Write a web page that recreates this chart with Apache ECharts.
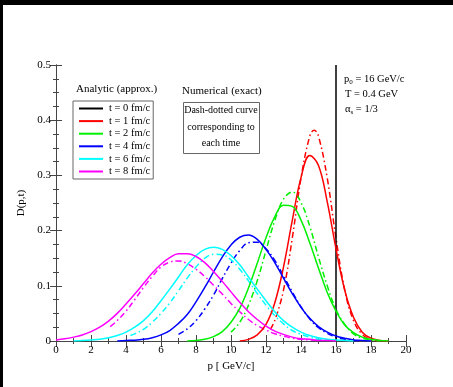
<!DOCTYPE html>
<html>
<head>
<meta charset="utf-8">
<script src="https://cdn.jsdelivr.net/npm/echarts@6/dist/echarts.min.js"></script>
<style>
  html, body { margin: 0; padding: 0; background: #fff; }
  #chart { width: 453px; height: 387px; }
</style>
</head>
<body>
<div id="chart"></div>
<script>
// Momentum distribution D(p,t) of a heavy quark, p0 = 16 GeV/c
const legendLabels = ['t = 0 fm/c', 't = 1 fm/c', 't = 2 fm/c', 't = 4 fm/c', 't = 6 fm/c', 't = 8 fm/c'];
const curveColors = ['#000000', '#ff0000', '#00f000', '#0000ff', '#00ffff', '#ff00ff'];

// t = 0: delta peak at p0
const t0Line = [[16, 0], [16, 0.5]];

// analytic (approx.) curves, [p, D]
const t1Analytic = [[10.5,0],[11,0.003],[11.5,0.011],[12,0.030],[12.5,0.069],[13,0.134],[13.5,0.218],[14,0.296],[14.5,0.336],[15,0.318],[15.5,0.252],[16,0.167],[16.5,0.092],[17,0.043],[17.5,0.016],[18,0.005],[18.5,0.001],[19,0]];
const t2Analytic = [[7.5,0],[8,0.001],[8.5,0.003],[9,0.008],[9.5,0.017],[10,0.034],[10.5,0.059],[11,0.096],[11.5,0.141],[12,0.187],[12.5,0.225],[13,0.246],[13.5,0.244],[14,0.219],[14.5,0.178],[15,0.132],[15.5,0.088],[16,0.054],[16.5,0.029],[17,0.015],[17.5,0.007],[18,0.003],[18.5,0.001],[19,0]];
const t4Analytic = [[3.5,0],[4,0.001],[4.5,0.0015],[5,0.003],[5.5,0.006],[6,0.011],[6.5,0.019],[7,0.032],[7.5,0.048],[8,0.071],[8.5,0.097],[9,0.125],[9.5,0.152],[10,0.174],[10.5,0.188],[11,0.192],[11.5,0.184],[12,0.166],[12.5,0.142],[13,0.114],[13.5,0.086],[14,0.061],[14.5,0.041],[15,0.026],[15.5,0.016],[16,0.009],[16.5,0.005],[17,0.002],[17.5,0.001],[18,0]];
const t6Analytic = [[1,0],[1.5,0.001],[2,0.002],[2.5,0.003],[3,0.006],[3.5,0.010],[4,0.016],[4.5,0.025],[5,0.037],[5.5,0.053],[6,0.073],[6.5,0.094],[7,0.116],[7.5,0.138],[8,0.155],[8.5,0.166],[9,0.170],[9.5,0.166],[10,0.155],[10.5,0.138],[11,0.116],[11.5,0.094],[12,0.073],[12.5,0.053],[13,0.037],[13.5,0.025],[14,0.016],[14.5,0.010],[15,0.006],[15.5,0.003],[16,0.002],[16.5,0.001],[17,0]];
const t8Analytic = [[0,0.002],[0.5,0.004],[1,0.007],[1.5,0.011],[2,0.017],[2.5,0.025],[3,0.036],[3.5,0.050],[4,0.067],[4.5,0.085],[5,0.104],[5.5,0.123],[6,0.139],[6.5,0.151],[7,0.158],[7.5,0.158],[8,0.153],[8.5,0.142],[9,0.126],[9.5,0.108],[10,0.089],[10.5,0.070],[11,0.053],[11.5,0.039],[12,0.027],[12.5,0.018],[13,0.012],[13.5,0.007],[14,0.004],[14.5,0.003],[15,0.001],[15.5,0.001],[16,0]];

// numerical (exact) curves, [p, D]
const t1Numerical = [[12.25,0.021],[12.5,0.037],[13,0.092],[13.5,0.186],[14,0.295],[14.5,0.371],[14.75,0.382],[15,0.371],[15.5,0.295],[16,0.186],[16.5,0.092],[17,0.037],[17.5,0.012],[18,0.003],[18.5,0]];
const t2Numerical = [[10,0.016],[10.5,0.034],[11,0.065],[11.5,0.109],[12,0.164],[12.5,0.218],[13,0.257],[13.5,0.270],[14,0.251],[14.5,0.208],[15,0.152],[15.5,0.100],[16,0.057],[16.5,0.030],[17,0.013],[17.5,0.005],[18,0.002],[18.5,0]];
const t4Numerical = [[7,0.012],[7.5,0.022],[8,0.037],[8.5,0.058],[9,0.083],[9.5,0.113],[10,0.141],[10.5,0.164],[11,0.178],[11.5,0.179],[12,0.167],[12.5,0.146],[13,0.118],[13.5,0.089],[14,0.062],[14.5,0.040],[15,0.024],[15.5,0.014],[16,0.007],[16.5,0.003],[17,0.001],[17.5,0]];
const t6Numerical = [[4.25,0.010],[4.5,0.013],[5,0.021],[5.5,0.034],[6,0.050],[6.5,0.069],[7,0.091],[7.5,0.114],[8,0.134],[8.5,0.150],[9,0.157],[9.5,0.156],[10,0.147],[10.5,0.130],[11,0.109],[11.5,0.086],[12,0.065],[12.5,0.046],[13,0.031],[13.5,0.019],[14,0.012],[14.5,0.007],[15,0.003],[15.5,0.002],[16,0.001]];
const t8Numerical = [[3.1,0.026],[3.5,0.037],[4,0.054],[4.5,0.075],[5,0.097],[5.5,0.117],[6,0.134],[6.5,0.143],[7,0.145],[7.5,0.140],[8,0.130],[8.5,0.117],[9,0.101],[9.5,0.085],[10,0.068],[10.5,0.053],[11,0.039],[11.5,0.028],[12,0.020],[12.5,0.013],[13,0.009],[13.5,0.005],[14,0.003],[14.5,0.002],[15,0.001]];

const analyticData = [t0Line, t1Analytic, t2Analytic, t4Analytic, t6Analytic, t8Analytic];
const numericalData = [null, t1Numerical, t2Numerical, t4Numerical, t6Numerical, t8Numerical];

const SERIF = '"Liberation Serif", "DejaVu Serif", serif';
const frameColor = '#444';

const chart = echarts.init(document.getElementById('chart'), null, { renderer: 'canvas' });

const series = [];
analyticData.forEach((d, i) => {
  series.push({
    name: legendLabels[i],
    type: 'line',
    data: d,
    symbol: 'none',
    smooth: i === 0 ? false : 0.4,
    lineStyle: { color: curveColors[i], width: 1.5 },
    itemStyle: { color: curveColors[i] },
    z: 3
  });
});
numericalData.forEach((d, i) => {
  if (!d) return;
  series.push({
    name: 'numerical ' + legendLabels[i],
    type: 'line',
    data: d,
    symbol: 'none',
    smooth: 0.4,
    lineStyle: { color: curveColors[i], width: 1.5, type: [6, 3, 1.5, 3] },
    itemStyle: { color: curveColors[i] },
    z: 2
  });
});

const xAxisBase = {
  type: 'value', min: 0, max: 20, interval: 2,
  axisLine: { show: true, lineStyle: { color: frameColor, width: 1 } },
  axisTick: { show: true, inside: true, length: 6, lineStyle: { color: frameColor } },
  minorTick: { show: true, splitNumber: 2, length: 3, lineStyle: { color: frameColor } },
  splitLine: { show: false },
  minorSplitLine: { show: false }
};
const yAxisBase = {
  type: 'value', min: 0, max: 0.5, interval: 0.1,
  axisLine: { show: true, lineStyle: { color: frameColor, width: 1 } },
  axisTick: { show: true, inside: true, length: 6, lineStyle: { color: frameColor } },
  minorTick: { show: true, splitNumber: 4, length: 3, lineStyle: { color: frameColor } },
  splitLine: { show: false },
  minorSplitLine: { show: false }
};

const option = {
  animation: false,
  backgroundColor: '#ffffff',
  textStyle: { fontFamily: SERIF },
  grid: { left: 56, top: 65, right: 47, bottom: 46, containLabel: false },
  xAxis: [
    Object.assign({}, xAxisBase, {
      position: 'bottom',
      axisLabel: { color: '#000', fontFamily: SERIF, fontSize: 11, margin: 4 },
      name: 'p [ GeV/c]', nameLocation: 'middle', nameGap: 16,
      nameTextStyle: { color: '#000', fontFamily: SERIF, fontSize: 11 }
    }),
    Object.assign({}, xAxisBase, { position: 'top', axisLabel: { show: false } })
  ],
  yAxis: [
    Object.assign({}, yAxisBase, {
      position: 'left',
      axisLabel: { color: '#000', fontFamily: SERIF, fontSize: 11, margin: 5 },
      name: 'D(p,t)', nameLocation: 'middle', nameGap: 18, nameRotate: 90,
      nameTextStyle: { color: '#000', fontFamily: SERIF, fontSize: 11 }
    }),
    Object.assign({}, yAxisBase, { position: 'right', axisLabel: { show: false } })
  ],
  legend: {
    data: legendLabels,
    orient: 'vertical',
    left: 73, top: 101,
    padding: [2, 3, 2, 5],
    itemWidth: 24, itemHeight: 10, itemGap: 1.6,
    borderColor: '#666', borderWidth: 1,
    backgroundColor: '#fff',
    itemStyle: { opacity: 0 },
    lineStyle: { width: 2 },
    textStyle: { fontFamily: SERIF, fontSize: 10.5, color: '#000', padding: [0, 0, 0, 1] },
    selectedMode: false
  },
  graphic: [
    { type: 'rect', shape: { x: 0, y: 0, width: 453, height: 5 }, style: { fill: '#000' }, z: 100 },
    { type: 'rect', shape: { x: 0, y: 0, width: 3, height: 387 }, style: { fill: '#000' }, z: 100 },
    { type: 'text', left: 76, top: 84,
      style: { text: 'Analytic (approx.)', fontFamily: SERIF, fontSize: 11, fill: '#000' } },
    { type: 'text', left: 182, top: 86,
      style: { text: 'Numerical (exact)', fontFamily: SERIF, fontSize: 11, fill: '#000' } },
    { type: 'rect', shape: { x: 183.5, y: 102.5, width: 76, height: 51 },
      style: { fill: '#fff', stroke: '#666', lineWidth: 1 }, z: 10 },
    { type: 'text', x: 221, y: 110, z: 11,
      style: { text: 'Dash-dotted curve', fontFamily: SERIF, fontSize: 10, fill: '#000', align: 'center', verticalAlign: 'middle' } },
    { type: 'text', x: 221, y: 127, z: 11,
      style: { text: 'corresponding to', fontFamily: SERIF, fontSize: 10, fill: '#000', align: 'center', verticalAlign: 'middle' } },
    { type: 'text', x: 221, y: 143, z: 11,
      style: { text: 'each time', fontFamily: SERIF, fontSize: 10, fill: '#000', align: 'center', verticalAlign: 'middle' } },
    { type: 'text', x: 344, y: 79, z: 11,
      style: { text: 'p{s|0} = 16 GeV/c', fontFamily: SERIF, fontSize: 10.5, fill: '#000', verticalAlign: 'middle',
        rich: { s: { fontFamily: SERIF, fontSize: 7, padding: [6, 0, 0, 0] } } } },
    { type: 'text', x: 345, y: 94, z: 11,
      style: { text: 'T = 0.4 GeV', fontFamily: SERIF, fontSize: 10.5, fill: '#000', verticalAlign: 'middle' } },
    { type: 'text', x: 345, y: 109, z: 11,
      style: { text: 'α{s|s} = 1/3', fontFamily: SERIF, fontSize: 10.5, fill: '#000', verticalAlign: 'middle',
        rich: { s: { fontFamily: SERIF, fontSize: 7, padding: [6, 0, 0, 0] } } } }
  ],
  series: series
};

chart.setOption(option);
</script>
</body>
</html>
